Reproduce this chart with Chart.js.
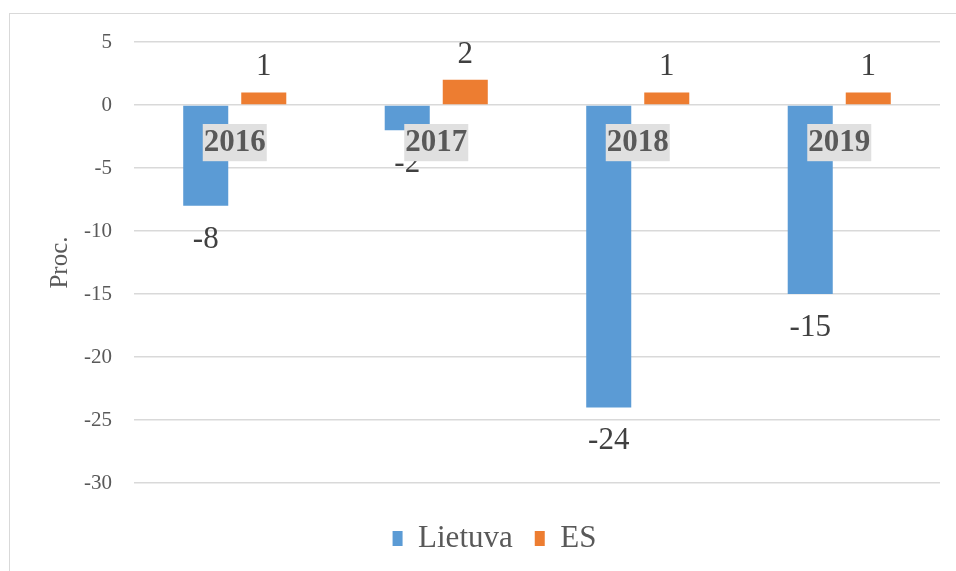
<!DOCTYPE html>
<html>
<head>
<meta charset="utf-8">
<script src="https://cdn.jsdelivr.net/npm/chart.js@4/dist/chart.umd.min.js"></script>
<style>
  html, body { margin: 0; padding: 0; background: #ffffff; }
  #wrap { width: 956px; height: 571px; }
</style>
</head>
<body>
<div id="wrap"><canvas id="c" width="956" height="571"></canvas></div>
<script>
const categories = ['2016', '2017', '2018', '2019'];
const lietuvaValues = [-8, -2, -24, -15];
const esValues = [1, 2, 1, 1];
const seriesNames = ['Lietuva', 'ES'];
const yAxisTitle = 'Proc.';
const yMin = -30, yMax = 5, yStep = 5;

const FONT = "'Liberation Serif', 'Times New Roman', serif";

const backgroundPlugin = {
  id: 'bgBorder',
  beforeDraw(chart) {
    const ctx = chart.ctx;
    ctx.save();
    ctx.fillStyle = '#ffffff';
    ctx.fillRect(0, 0, chart.width, chart.height);
    ctx.strokeStyle = '#d9d9d9';
    ctx.lineWidth = 1;
    ctx.strokeRect(9.5, 13.5, 1000, 1000);
    ctx.restore();
  }
};

const valueLabelPlugin = {
  id: 'valueLabels',
  afterDatasetsDraw(chart) {
    const ctx = chart.ctx;
    ctx.save();
    ctx.font = '31px ' + FONT;
    ctx.fillStyle = '#404040';
    ctx.textAlign = 'center';
    ctx.textBaseline = 'alphabetic';
    chart.data.datasets.forEach((ds, di) => {
      const meta = chart.getDatasetMeta(di);
      meta.data.forEach((bar, i) => {
        const v = ds.data[i];
        const y = v >= 0 ? bar.y - 17 : bar.y + 42;
        ctx.fillText(String(v), bar.x, y);
      });
    });
    ctx.restore();
  }
};

new Chart(document.getElementById('c'), {
  type: 'bar',
  data: {
    labels: categories,
    datasets: [
      { label: seriesNames[0], data: lietuvaValues, backgroundColor: '#5B9BD5',
        categoryPercentage: 0.576, barPercentage: 0.776 },
      { label: seriesNames[1], data: esValues, backgroundColor: '#ED7D31',
        categoryPercentage: 0.576, barPercentage: 0.776 }
    ]
  },
  options: {
    responsive: false,
    devicePixelRatio: 1,
    animation: false,
    layout: { padding: { left: 49, right: 16, top: 42, bottom: 7 } },
    plugins: {
      legend: {
        position: 'bottom',
        labels: {
          boxWidth: 10, boxHeight: 15, padding: 22,
          color: '#595959',
          font: { family: FONT, size: 31 }
        }
      },
      tooltip: { enabled: false },
      title: { display: false }
    },
    scales: {
      x: {
        type: 'category',
        position: { y: 0 },
        grid: { display: false, drawTicks: false },
        border: { display: false },
        ticks: {
          z: 1,
          padding: 19,
          color: '#595959',
          font: { family: FONT, size: 31, weight: 'bold' },
          showLabelBackdrop: true,
          backdropColor: '#e0e0e0',
          backdropPadding: { left: 1, right: 1, top: 0, bottom: 0 },
          maxRotation: 0
        }
      },
      gap: {
        type: 'category',
        position: 'bottom',
        display: true,
        afterFit(scale) { scale.height = 18; },
        grid: { display: false, drawTicks: false },
        border: { display: false },
        ticks: { display: false }
      },
      y: {
        min: yMin, max: yMax,
        afterFit(scale) { scale.width = 85; },
        grid: { color: '#d9d9d9', lineWidth: 1.5, drawTicks: false },
        border: { display: false },
        ticks: {
          stepSize: yStep,
          padding: 22,
          color: '#595959',
          font: { family: FONT, size: 21 }
        },
        title: {
          display: true,
          text: yAxisTitle,
          color: '#595959',
          font: { family: FONT, size: 25 },
          padding: { top: -4, bottom: 0 }
        }
      }
    }
  },
  plugins: [backgroundPlugin, valueLabelPlugin]
});
</script>
</body>
</html>
